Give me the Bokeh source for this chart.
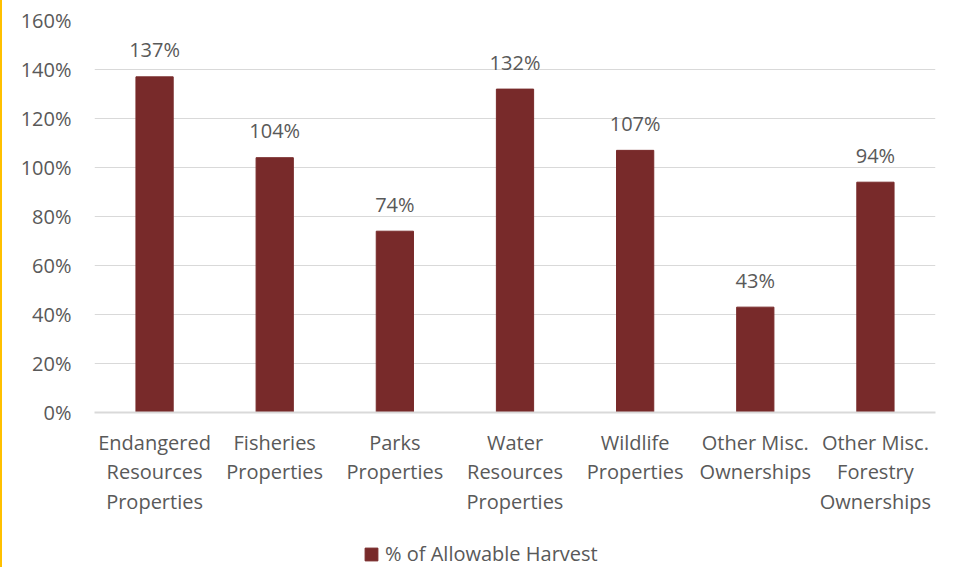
from bokeh.plotting import figure
from bokeh.layouts import column
from bokeh.models import (ColumnDataSource, Legend, LegendItem, FixedTicker,
                          PrintfTickFormatter, Range1d)
from bokeh.embed import file_html
from bokeh.resources import INLINE
from bokeh.core.properties import value

categories = [
    "Endangered\nResources\nProperties",
    "Fisheries\nProperties",
    "Parks\nProperties",
    "Water\nResources\nProperties",
    "Wildlife\nProperties",
    "Other Misc.\nOwnerships",
    "Other Misc.\nForestry\nOwnerships",
]
values = [137, 104, 74, 132, 107, 43, 94]
labels = ["137%", "104%", "74%", "132%", "107%", "43%", "94%"]
y_ticks = [0, 20, 40, 60, 80, 100, 120, 140, 160]
series_name = "% of Allowable Harvest"

FONT = "Open Sans"
TXT = "#595959"
BAR = "#782A2A"
GRID = "#D9D9D9"

src = ColumnDataSource(dict(cat=categories, val=values, lab=labels))

# ---- main chart ----
p = figure(
    x_range=categories, y_range=(0, 160),
    width=953, height=540,
    output_backend="svg", toolbar_location=None,
    min_border_left=92, min_border_right=20, min_border_top=20, min_border_bottom=128,
)
p.outline_line_color = None
p.background_fill_color = "white"
p.border_fill_color = "white"

bars = p.vbar(x="cat", top="val", width=0.31, source=src,
              fill_color=BAR, line_color=BAR)

p.text(x="cat", y="val", text="lab", source=src,
       text_font=value(FONT), text_font_size="20px", text_color=TXT,
       text_align="center", text_baseline="middle", y_offset=-27)

p.xaxis.axis_line_color = GRID
p.xaxis.axis_line_width = 2
p.xaxis.major_tick_line_color = None
p.xaxis.minor_tick_line_color = None
p.xaxis.major_label_text_font = FONT
p.xaxis.major_label_text_font_size = "20px"
p.xaxis.major_label_text_color = TXT
p.xaxis.major_label_standoff = 10
p.xaxis.major_label_text_line_height = 1.1

p.yaxis.axis_line_color = None
p.yaxis.major_tick_line_color = None
p.yaxis.minor_tick_line_color = None
p.yaxis.major_tick_out = 0
p.yaxis.major_tick_in = 0
p.yaxis.ticker = FixedTicker(ticks=y_ticks)
p.yaxis.formatter = PrintfTickFormatter(format="%d%%")
p.yaxis.major_label_text_font = FONT
p.yaxis.major_label_text_font_size = "20px"
p.yaxis.major_label_text_color = TXT
p.yaxis.major_label_standoff = 23

p.xgrid.grid_line_color = None
p.ygrid.grid_line_color = GRID
p.ygrid.grid_line_width = 1
p.ygrid.ticker = FixedTicker(ticks=y_ticks)

# ---- legend strip (same series, bars fall outside its visible range) ----
lg = figure(
    x_range=categories, y_range=Range1d(1000, 1001),
    width=953, height=27,
    output_backend="svg", toolbar_location=None,
    x_axis_location=None, y_axis_location=None,
    min_border=0,
)
lg.outline_line_color = None
lg.xgrid.grid_line_color = None
lg.ygrid.grid_line_color = None
lg_bar = lg.vbar(x="cat", top="val", width=0.31, source=src,
                 fill_color=BAR, line_color=BAR)

legend = Legend(
    items=[LegendItem(label=series_name, renderers=[lg_bar])],
    location=(269, 0),
    orientation="horizontal",
    glyph_width=16, glyph_height=16,
    label_standoff=6,
    label_text_font=FONT, label_text_font_size="20px", label_text_color=TXT,
    padding=0, margin=0, spacing=0,
    border_line_color=None, background_fill_alpha=0,
)
lg.add_layout(legend, "center")

layout = column(p, lg, spacing=0, styles={"border-left": "2px solid #FFC000"})

open("out.html", "w").write(file_html(layout, INLINE))
